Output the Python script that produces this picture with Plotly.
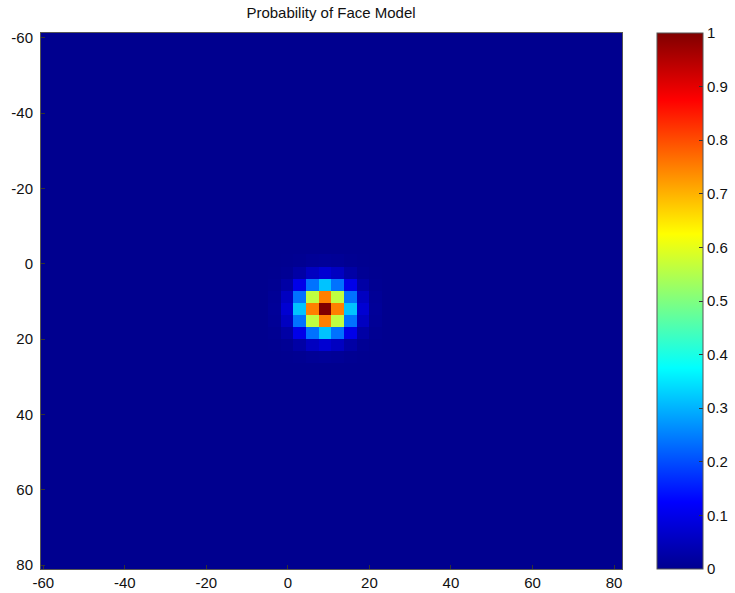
import numpy as np
import plotly.graph_objects as go

# Grid of the face-model probability map (cell centres in image coordinates)
peak_x = 9.1
peak_y = 12.0
cell_dx = 3.1
cell_dy = 3.2
n_cols = 47
n_rows = 46
peak_col = 23
peak_row = 23

# Probability values around the face-model peak (rows: y, cols: x)
blob = [
    [0.000, 0.001, 0.003, 0.008, 0.010, 0.008, 0.003, 0.001, 0.000],
    [0.001, 0.006, 0.024, 0.056, 0.075, 0.056, 0.024, 0.006, 0.001],
    [0.003, 0.024, 0.100, 0.237, 0.316, 0.237, 0.100, 0.024, 0.003],
    [0.008, 0.056, 0.237, 0.562, 0.750, 0.562, 0.237, 0.056, 0.008],
    [0.010, 0.075, 0.316, 0.750, 1.000, 0.750, 0.316, 0.075, 0.010],
    [0.008, 0.056, 0.237, 0.562, 0.750, 0.562, 0.237, 0.056, 0.008],
    [0.003, 0.024, 0.100, 0.237, 0.316, 0.237, 0.100, 0.024, 0.003],
    [0.001, 0.006, 0.024, 0.056, 0.075, 0.056, 0.024, 0.006, 0.001],
    [0.000, 0.001, 0.003, 0.008, 0.010, 0.008, 0.003, 0.001, 0.000],
]

axis_ticks = [-60, -40, -20, 0, 20, 40, 60, 80]
axis_labels = ["-60", "-40", "-20", "0", "20", "40", "60", "80"]
colorbar_ticks = [0, 0.1, 0.2, 0.3, 0.4, 0.5, 0.6, 0.7, 0.8, 0.9, 1]
colorbar_labels = ["0", "0.1", "0.2", "0.3", "0.4", "0.5", "0.6", "0.7", "0.8", "0.9", "1"]

# Full probability map: zero everywhere except the blob around the peak
z = np.zeros((n_rows, n_cols))
b = np.array(blob)
h = b.shape[0] // 2
z[peak_row - h:peak_row + h + 1, peak_col - h:peak_col + h + 1] = b

x0 = peak_x - cell_dx * peak_col
y0 = peak_y - cell_dy * peak_row

jet = [
    [0.0, "rgb(0,0,143)"],
    [0.125, "rgb(0,0,255)"],
    [0.375, "rgb(0,255,255)"],
    [0.625, "rgb(255,255,0)"],
    [0.875, "rgb(255,0,0)"],
    [1.0, "rgb(128,0,0)"],
]

font = dict(family="Liberation Sans, Arial, sans-serif", size=15, color="#111111")

fig = go.Figure(
    go.Heatmap(
        z=z,
        x0=x0,
        dx=cell_dx,
        y0=y0,
        dy=cell_dy,
        zmin=0,
        zmax=1,
        colorscale=jet,
        zsmooth=False,
        colorbar=dict(
            xref="container",
            x=657 / 735,
            xanchor="left",
            xpad=0,
            y=0.5,
            yanchor="middle",
            len=1,
            lenmode="fraction",
            ypad=0,
            thickness=46,
            thicknessmode="pixels",
            tickvals=colorbar_ticks,
            ticktext=colorbar_labels,
            ticks="inside",
            ticklen=4,
            tickcolor="#333333",
            outlinecolor="#555555",
            outlinewidth=1,
            tickfont=font,
        ),
    )
)

fig.update_layout(
    width=735,
    height=593,
    margin=dict(l=41, r=113, t=33, b=24),
    paper_bgcolor="white",
    plot_bgcolor="white",
    font=font,
    title=dict(
        text="Probability of Face Model",
        x=331 / 735,
        xanchor="center",
        y=1 - 13 / 593,
        yanchor="middle",
        font=dict(family="Liberation Sans, Arial, sans-serif", size=15, color="#111111"),
    ),
)

common_axis = dict(
    tickvals=axis_ticks,
    ticktext=axis_labels,
    ticks="inside",
    ticklen=4,
    tickcolor="#333333",
    showgrid=False,
    zeroline=False,
    showline=True,
    linecolor="#555555",
    linewidth=1,
    mirror=True,
    tickfont=font,
    automargin=False,
)

fig.update_xaxes(range=[-60.56, 81.96], **common_axis)
fig.update_yaxes(range=[81.06, -61.25], ticklabelstandoff=4, **common_axis)

fig.write_html("out.html")
